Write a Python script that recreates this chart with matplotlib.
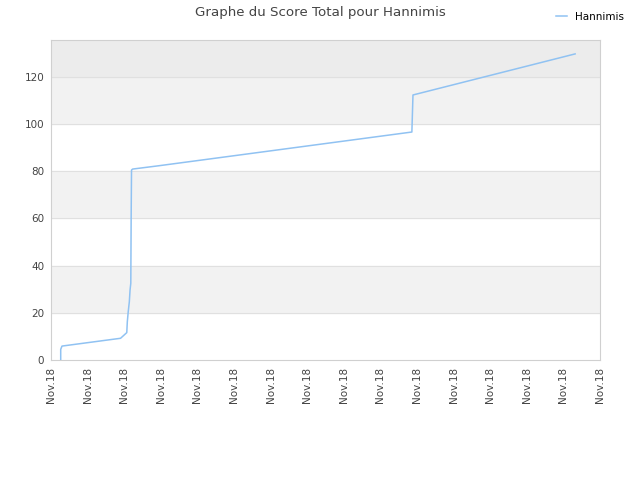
import matplotlib.pyplot as plt

# score over time (x in tick units, one tick per date label)
x = [0.265, 0.265, 0.30, 1.90, 2.07, 2.085, 2.11, 2.14, 2.16, 2.18, 2.19, 2.20, 2.23, 2.94, 9.86, 9.89, 14.32]
score = [0, 4.5, 5.9, 9.2, 11.6, 16.2, 20.5, 24.7, 29.7, 32.5, 60.7, 80.5, 80.9, 82.3, 96.6, 112.3, 129.7]
tick_labels = ["Nov.18"] * 16
yticks = [0, 20, 40, 60, 80, 100, 120]

fig = plt.figure(figsize=(6.4, 4.8), dpi=100)
ax = fig.add_axes([0.0797, 0.25, 0.8578, 0.6667])

# alternating background bands
ax.axhspan(20, 40, color="#f2f2f2", zorder=0)
ax.axhspan(60, 80, color="#f2f2f2", zorder=0)
ax.axhspan(100, 120, color="#f2f2f2", zorder=0)
ax.axhspan(120, 140, color="#ececec", zorder=0)
for yv in yticks[1:]:
    ax.axhline(yv, color="#e0e0e0", lw=0.8, zorder=1)

ax.plot(x, score, color="#90c2f2", lw=1.1, label="Hannimis", zorder=3)

ax.set_xlim(0, 15)
ax.set_ylim(0, 135.6)
ax.set_xticks(range(16))
ax.set_xticklabels(tick_labels, rotation=90, fontsize=7.5, color="#444444")
ax.set_yticks(yticks)
ax.set_yticklabels([str(v) for v in yticks], fontsize=7.5, color="#444444")
ax.tick_params(length=0, pad=5)
for s in ax.spines.values():
    s.set_color("#d0d0d0")

fig.suptitle("Graphe du Score Total pour Hannimis", fontsize=9.6, color="#444444", y=0.988)
fig.legend(loc="upper right", bbox_to_anchor=(0.99, 0.995), frameon=False,
           fontsize=7.5, handlelength=1.0)

fig.savefig("out.png", dpi=100)
